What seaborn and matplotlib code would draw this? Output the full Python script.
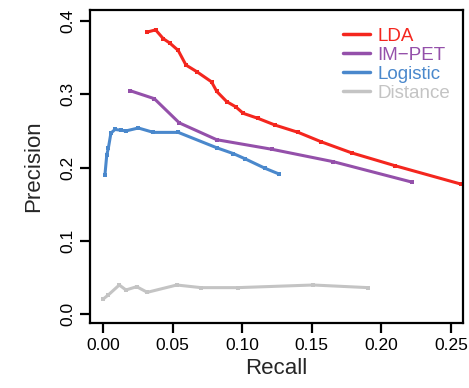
import numpy as np
import pandas as pd
import matplotlib
matplotlib.use("Agg")
import matplotlib.pyplot as plt
import seaborn as sns
from matplotlib.lines import Line2D

lda_recall = [0.0318, 0.0378, 0.0433, 0.048, 0.054, 0.0596, 0.0673, 0.078, 0.0817, 0.0889,
              0.0953, 0.1008, 0.1116, 0.1236, 0.1403, 0.157, 0.1787, 0.2098, 0.257]
lda_prec = [0.385, 0.388, 0.376, 0.370, 0.360, 0.340, 0.331, 0.317, 0.304, 0.290,
            0.283, 0.274, 0.267, 0.258, 0.248, 0.235, 0.220, 0.2025, 0.1775]
impet_recall = [0.0194, 0.0369, 0.0548, 0.0817, 0.1212, 0.1655, 0.2222]
impet_prec = [0.305, 0.294, 0.261, 0.238, 0.225, 0.208, 0.180]
log_recall = [0.0014, 0.0027, 0.0038, 0.0057, 0.0086, 0.0127, 0.0165, 0.0254, 0.0362,
              0.0541, 0.0817, 0.0937, 0.102, 0.1164, 0.1267]
log_prec = [0.190, 0.217, 0.226, 0.247, 0.252, 0.251, 0.250, 0.254, 0.248,
            0.248, 0.227, 0.219, 0.212, 0.199, 0.191]
dist_recall = [0.0002, 0.0038, 0.0117, 0.0165, 0.0242, 0.0318, 0.053, 0.0704, 0.0967, 0.151, 0.1906]
dist_prec = [0.0205, 0.026, 0.0396, 0.0328, 0.0373, 0.0296, 0.0396, 0.036, 0.036, 0.0396, 0.036]

methods = ["LDA", "IM\u2212PET", "Logistic", "Distance"]
colors = ["#F4261E", "#9450AA", "#4A88CC", "#C4C4C4"]
x_ticks = [0.00, 0.05, 0.10, 0.15, 0.20, 0.25]
y_ticks = [0.0, 0.1, 0.2, 0.3, 0.4]

frames = []
for name, rx, py in zip(methods,
                        [lda_recall, impet_recall, log_recall, dist_recall],
                        [lda_prec, impet_prec, log_prec, dist_prec]):
    frames.append(pd.DataFrame({"Recall": rx, "Precision": py, "Method": name}))
df = pd.concat(frames, ignore_index=True)

sns.set_style("white")
plt.rcParams["font.family"] = ["Liberation Sans", "DejaVu Sans"]

fig = plt.figure(figsize=(4.69, 3.88), dpi=100)
ax = fig.add_axes([0.192, 0.1675, 0.795, 0.8065])

palette = dict(zip(methods, colors))
sns.lineplot(data=df, x="Recall", y="Precision", hue="Method", hue_order=methods,
             palette=palette, sort=False, estimator=None, linewidth=2.2,
             marker="s", markersize=3, markeredgewidth=0, legend=False, ax=ax)

ax.set_xlim(-0.0093, 0.2586)
ax.set_ylim(-0.0123, 0.415)
ax.set_xticks(x_ticks)
ax.set_xticklabels([f"{v:.2f}" for v in x_ticks])
ax.set_yticks(y_ticks)
ax.set_yticklabels([f"{v:.1f}" for v in y_ticks], rotation=90, va="center")
ax.tick_params(axis="both", direction="out", length=7.5, width=1.6, labelsize=12.5,
               colors="black", bottom=True, left=True, pad=3)
for s in ax.spines.values():
    s.set_visible(True)
    s.set_color("black")
    s.set_linewidth(1.6)
ax.set_xlabel("Recall", fontsize=16, labelpad=4)
ax.set_ylabel("Precision", fontsize=16, labelpad=12)

handles = [Line2D([0], [0], color=c, lw=2.5) for c in colors]
leg = ax.legend(handles, methods, loc="upper right", bbox_to_anchor=(1.0, 0.985),
                frameon=False, fontsize=13.5, handlelength=1.4, handletextpad=0.4,
                labelspacing=0.1, borderaxespad=0.3)
for t, c in zip(leg.get_texts(), colors):
    t.set_color(c)

fig.savefig("out.png", dpi=100)
